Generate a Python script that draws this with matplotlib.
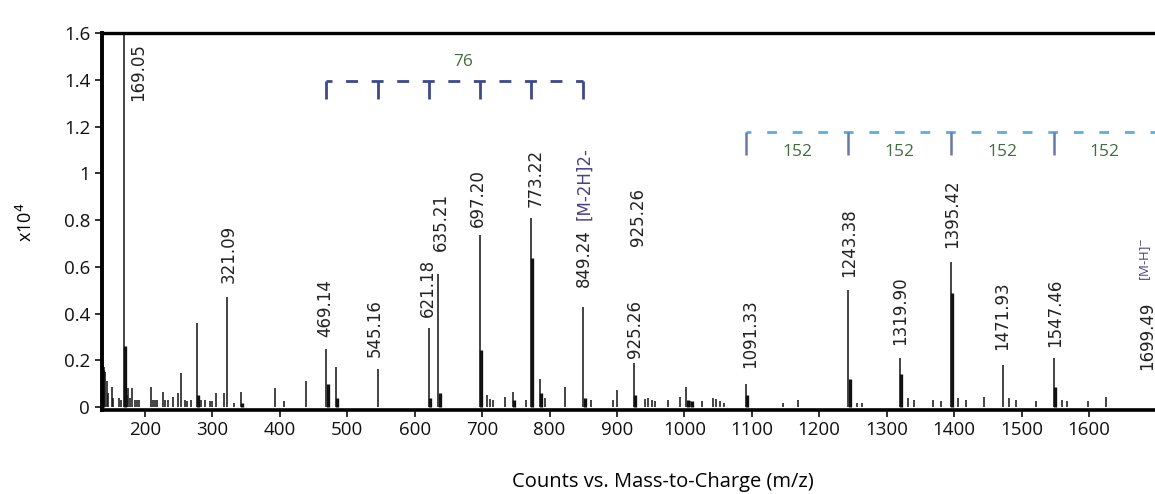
import numpy as np
import matplotlib
matplotlib.use("Agg")
import matplotlib.pyplot as plt

plt.rcParams['font.family'] = ['Open Sans', 'DejaVu Sans']
plt.rcParams['lines.scale_dashes'] = False

# spectrum: thin peak lines (m/z, intensity x10^4)
peak_mz = [137, 139, 141, 143, 145, 151, 153, 161, 165, 169.05, 173, 175, 178, 181, 185, 188, 191,
           209, 212, 215, 218, 227, 230, 234, 242, 249, 253, 259, 263, 268, 277, 283, 289, 297, 300,
           305, 317, 321.09, 332, 342, 393, 406, 439, 469.14, 483, 545.16, 621.18, 635.21, 697.20,
           707, 711, 716, 734, 746, 765, 773.22, 786, 793, 823, 849.24, 862, 894, 900, 925.26, 942,
           946, 952, 957, 976, 994, 1003, 1008, 1026, 1043, 1047, 1053, 1059, 1091.33, 1147, 1169,
           1243.38, 1256, 1264, 1319.90, 1332, 1340, 1369, 1381, 1395.42, 1406, 1417, 1445, 1471.93,
           1482, 1492, 1522, 1547.46, 1560, 1568, 1598, 1626, 1699.49]
peak_int = [0.18, 0.17, 0.15, 0.11, 0.06, 0.085, 0.04, 0.04, 0.03, 1.62, 0.05, 0.08, 0.04, 0.08, 0.03, 0.03, 0.03,
            0.085, 0.03, 0.03, 0.03, 0.065, 0.03, 0.03, 0.045, 0.06, 0.145, 0.03, 0.025, 0.03, 0.36, 0.03, 0.03, 0.025, 0.025,
            0.06, 0.06, 0.47, 0.02, 0.065, 0.08, 0.025, 0.11, 0.25, 0.17, 0.165, 0.34, 0.57, 0.735,
            0.05, 0.035, 0.03, 0.045, 0.065, 0.03, 0.81, 0.12, 0.04, 0.085, 0.43, 0.03, 0.03, 0.075, 0.19, 0.035,
            0.04, 0.03, 0.025, 0.03, 0.045, 0.085, 0.025, 0.025, 0.04, 0.035, 0.025, 0.02, 0.10, 0.02, 0.03,
            0.50, 0.02, 0.02, 0.21, 0.04, 0.03, 0.03, 0.025, 0.62, 0.04, 0.03, 0.045, 0.18,
            0.04, 0.03, 0.025, 0.21, 0.03, 0.025, 0.025, 0.045, 0.05]

# thicker isotope clusters at the base of the main peaks
stub_mz = [138, 170, 279, 344, 471, 485, 623, 637, 698, 748, 774, 788, 852, 927, 1006, 1011, 1093,
           1245, 1321, 1397, 1549]
stub_int = [0.16, 0.26, 0.05, 0.02, 0.10, 0.04, 0.04, 0.06, 0.245, 0.03, 0.64, 0.06, 0.04, 0.05, 0.03, 0.025, 0.05,
            0.12, 0.14, 0.49, 0.085]

# peak annotations
lab_text = ['169.05', '321.09', '469.14', '545.16', '621.18', '635.21', '697.20', '773.22', '849.24',
            '925.26', '925.26', '1091.33', '1243.38', '1319.90', '1395.42', '1471.93', '1547.46', '1699.49']
lab_mz = [189.6, 324.6, 467, 541, 620, 639, 694, 779, 851, 931, 927, 1097.6, 1244.5, 1320, 1397, 1471.5, 1550, 1686]
lab_y = [1.31, 0.53, 0.30, 0.214, 0.385, 0.67, 0.77, 0.855, 0.513, 0.69, 0.21, 0.167, 0.556, 0.265, 0.68, 0.244, 0.256, 0.158]

# repeat-unit brackets
s76_mz = [469.14, 545.16, 621.18, 697.20, 773.22, 849.24]
s152_mz = [1091.33, 1243.38, 1395.42, 1547.46, 1699.49]

fig = plt.figure(figsize=(11.55, 4.94), dpi=100)
ax = fig.add_axes([0.0883, 0.171, 0.9117, 0.762])

ax.vlines(peak_mz, 0, peak_int, color='#111111', lw=1.1)
ax.vlines(stub_mz, 0, stub_int, color='#111111', lw=2.4)

for t, x, y in zip(lab_text, lab_mz, lab_y):
    ax.text(x, y, t, rotation=90, ha='center', va='bottom', fontsize=12,
            family=['DejaVu Sans'], color='#222222', clip_on=False)
ax.text(851, 0.80, '[M-2H]2-', rotation=90, ha='center', va='bottom', fontsize=12,
        family=['DejaVu Sans'], color='#4b3f86')
ax.text(1684, 0.54, '[M-H]$^{-}$', rotation=90, ha='center', va='bottom', fontsize=9.5,
        color='#4b3f86')

# 76 bracket
c76 = '#3c4a8c'
ax.plot([s76_mz[0], s76_mz[-1]], [1.397, 1.397], color=c76, lw=2,
        linestyle=(4.3, (8.6, 9.8)), dash_capstyle='butt')
ax.vlines(s76_mz, 1.32, 1.397, color=c76, lw=2)
ax.text(672, 1.475, '76', ha='center', va='center', fontsize=12.5, color='#3f6e3f')

# 152 bracket
ax.plot([s152_mz[0], s152_mz[-1] + 40], [1.175, 1.175], color='#5aaee0', lw=2,
        linestyle=(3.5, (7, 11.4)), dash_capstyle='butt')
ax.vlines(s152_mz, 1.077, 1.175, color='#6a78a6', lw=1.8)
for a, b in zip(s152_mz[:-1], s152_mz[1:]):
    ax.text((a + b) / 2, 1.09, '152', ha='center', va='center', fontsize=12.5, color='#3f6e3f')

ax.set_xlim(136.2, 1698)
ax.set_ylim(-0.01, 1.6)
ax.set_xticks(np.arange(200, 1700, 100))
ax.set_yticks([0, 0.2, 0.4, 0.6, 0.8, 1.0, 1.2, 1.4, 1.6])
ax.set_yticklabels(['0', '0.2', '0.4', '0.6', '0.8', '1', '1.2', '1.4', '1.6'])
ax.tick_params(direction='out', length=5, width=1.2, labelsize=13.5, colors='#111111')
ax.spines['right'].set_visible(False)
ax.spines['left'].set_linewidth(2.8)
ax.spines['bottom'].set_linewidth(2.6)
ax.spines['top'].set_linewidth(2.4)

fig.text(26 / 1155, 0.55, 'x10$^4$', rotation=90, ha='center', va='center', fontsize=13)
fig.text(663 / 1155, 0.025, 'Counts vs. Mass-to-Charge (m/z)', ha='center', va='center', fontsize=14.5)

plt.savefig('out.png', dpi=100)
